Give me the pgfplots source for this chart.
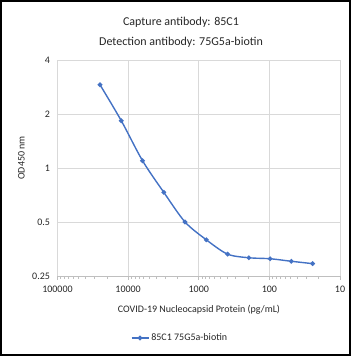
\documentclass[border=0pt]{standalone}
\usepackage{pgfplots}
\pgfplotsset{compat=1.18}
\usepackage{fontspec}
\setmainfont{Carlito}
\definecolor{excelblue}{HTML}{4472C4}
\definecolor{gridgray}{HTML}{D9D9D9}
\definecolor{axgray}{HTML}{BFBFBF}
\definecolor{txt}{HTML}{262626}
\begin{document}
\begin{tikzpicture}[x=1pt,y=1pt]
\draw[line width=2pt] (1,1) rectangle (350,355);
\begin{axis}[
 at={(57.5pt,80pt)}, anchor=south west, scale only axis, width=282.5pt, height=216pt,
 xmode=log, ymode=log, log basis y=2, x dir=reverse,
 xmin=10, xmax=100000, ymin=0.25, ymax=4,
 xtick={10,100,1000,10000,100000}, xticklabels={10,100,1000,10000,100000},
 ytick={0.25,0.5,1,2,4}, yticklabels={0.25,0.5,1,2,4},
 grid=major, major grid style={draw=gridgray, line width=0.8pt},
 axis x line*=bottom, axis y line*=left,
 x axis line style={draw=axgray, line width=0.8pt, -},
 y axis line style={draw=gridgray, line width=0.8pt, -},
 xtick style={draw=axgray, line width=0.6pt},
 ytick style={draw=none},
 tick align=outside, major tick length=4pt, minor tick length=3pt,
 minor x tick num=8,
 tick label style={font=\fontsize{10}{12}\selectfont, text=txt},
 xticklabel style={yshift=-2pt},
 legend style={at={(0.4336,-0.287)}, anchor=center, draw=none, fill=none,
   font=\fontsize{10}{12}\selectfont, text=txt},
 legend cell align=left,
]
\addplot[excelblue, line width=1.4pt, smooth, mark=*, mark size=1.6pt, mark options={fill=excelblue}]
 coordinates {
 (25000,2.91) (12500,1.835) (6250,1.098) (3125,0.732) (1562.5,0.5)
 (781.25,0.398) (390.625,0.331) (195.3125,0.316) (97.65625,0.312)
 (48.828,0.302) (24.414,0.293)};
\addlegendentry{85C1 75G5a-biotin}
\end{axis}
\node[font=\fontsize{12}{14}\selectfont, text=txt] at (181,334) {Capture antibody: 85C1};
\node[font=\fontsize{12}{14}\selectfont, text=txt] at (181,314) {Detection antibody: 75G5a-biotin};
\node[font=\fontsize{10}{12}\selectfont, text=txt] at (199,46) {COVID-19 Nucleocapsid Protein (pg/mL)};
\node[font=\fontsize{10}{12}\selectfont, text=txt, rotate=90] at (21.5,198) {OD450 nm};
\end{tikzpicture}
\end{document}
